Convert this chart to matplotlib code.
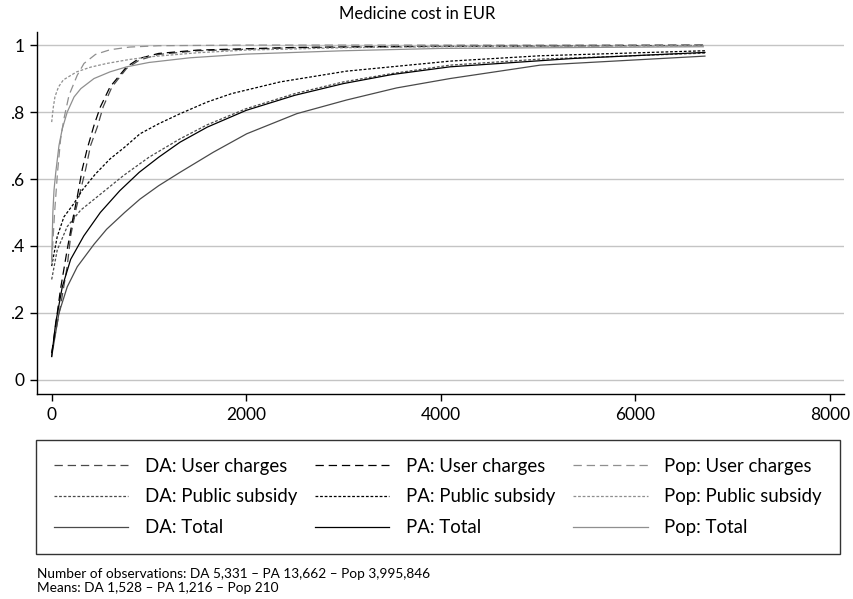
import matplotlib
matplotlib.use("Agg")
import matplotlib.pyplot as plt

plt.rcParams['font.family'] = ['Lato', 'DejaVu Sans']
plt.rcParams['lines.scale_dashes'] = False

# cumulative share of persons by medicine cost (EUR)
da_uc_x = [0, 25, 90, 160, 195, 250, 300, 350, 400, 470, 530, 620, 770, 900, 1100, 1500, 2500, 4000, 6700]
da_uc_y = [0.08, 0.12, 0.22, 0.34, 0.43, 0.51, 0.57, 0.63, 0.70, 0.756, 0.816, 0.875, 0.93, 0.955, 0.972, 0.983, 0.992, 0.996, 0.999]
pa_uc_x = [0, 25, 90, 160, 210, 265, 315, 365, 435, 500, 600, 770, 900, 1100, 1500, 2500, 4000, 6700]
pa_uc_y = [0.08, 0.13, 0.27, 0.39, 0.47, 0.55, 0.63, 0.69, 0.76, 0.815, 0.875, 0.935, 0.96, 0.975, 0.985, 0.993, 0.997, 1.0]
pop_uc_x = [0, 30, 60, 92, 126, 178, 263, 332, 450, 600, 800, 1100, 2000, 4000, 6700]
pop_uc_y = [0.35, 0.50, 0.62, 0.72, 0.78, 0.85, 0.91, 0.945, 0.972, 0.986, 0.994, 0.998, 1.0, 1.0, 1.0]

da_ps_x = [0, 57, 160, 298, 503, 737, 1000, 1320, 1600, 2000, 2500, 3000, 3500, 4096, 5020, 6717]
da_ps_y = [0.30, 0.388, 0.458, 0.507, 0.555, 0.61, 0.665, 0.72, 0.762, 0.81, 0.855, 0.89, 0.915, 0.94, 0.958, 0.976]
pa_ps_x = [0, 57, 126, 229, 315, 450, 600, 750, 908, 1100, 1320, 1600, 1850, 2350, 3030, 4096, 5021, 6717]
pa_ps_y = [0.34, 0.428, 0.487, 0.527, 0.567, 0.615, 0.66, 0.695, 0.735, 0.765, 0.795, 0.83, 0.855, 0.89, 0.922, 0.952, 0.968, 0.983]
pop_ps_x = [0, 17, 34, 70, 120, 257, 400, 565, 800, 1011, 1500, 2000, 3000, 4000, 6700]
pop_ps_y = [0.77, 0.815, 0.846, 0.875, 0.896, 0.92, 0.934, 0.945, 0.957, 0.965, 0.977, 0.985, 0.992, 0.995, 0.998]

da_tot_x = [0, 75, 160, 263, 435, 565, 750, 908, 1100, 1320, 1662, 2005, 2519, 3033, 3547, 4096, 5021, 6717]
da_tot_y = [0.07, 0.20, 0.278, 0.338, 0.405, 0.45, 0.50, 0.54, 0.58, 0.62, 0.68, 0.735, 0.795, 0.836, 0.872, 0.90, 0.94, 0.967]
pa_tot_x = [0, 41, 109, 195, 330, 500, 700, 900, 1100, 1320, 1600, 2000, 2500, 3000, 3500, 4096, 5365, 6717]
pa_tot_y = [0.07, 0.17, 0.278, 0.36, 0.43, 0.50, 0.565, 0.62, 0.665, 0.71, 0.755, 0.805, 0.85, 0.885, 0.912, 0.935, 0.96, 0.978]
pop_tot_x = [0, 12, 24, 42, 75, 109, 160, 230, 300, 435, 600, 771, 1000, 1422, 2000, 3000, 4000, 6700]
pop_tot_y = [0.36, 0.50, 0.567, 0.62, 0.70, 0.75, 0.80, 0.845, 0.87, 0.90, 0.92, 0.935, 0.948, 0.962, 0.973, 0.983, 0.99, 0.995]

groups = ['DA', 'PA', 'Pop']
colors = {'DA': '#4a4a4a', 'PA': 'black', 'Pop': '#8f8f8f'}
measures = ['User charges', 'Public subsidy', 'Total']
dashes = {'User charges': (6, 3.5), 'Public subsidy': (2.0, 1.3), 'Total': None}
series = {
    ('DA', 'User charges'): (da_uc_x, da_uc_y),
    ('PA', 'User charges'): (pa_uc_x, pa_uc_y),
    ('Pop', 'User charges'): (pop_uc_x, pop_uc_y),
    ('DA', 'Public subsidy'): (da_ps_x, da_ps_y),
    ('PA', 'Public subsidy'): (pa_ps_x, pa_ps_y),
    ('Pop', 'Public subsidy'): (pop_ps_x, pop_ps_y),
    ('DA', 'Total'): (da_tot_x, da_tot_y),
    ('PA', 'Total'): (pa_tot_x, pa_tot_y),
    ('Pop', 'Total'): (pop_tot_x, pop_tot_y),
}

W, H = 854, 599
fig = plt.figure(figsize=(W / 100, H / 100), dpi=100)
ax = fig.add_axes([37 / W, (H - 394) / H, (844 - 37) / W, (394 - 32) / H])

handles = []
for g in groups:
    for m in measures:
        x, y = series[(g, m)]
        line, = ax.plot(x, y, color=colors[g], lw=0.9, label=g + ': ' + m)
        if dashes[m] is not None:
            line.set_dashes(dashes[m])
        handles.append(line)

ax.set_xlim(-151, 8147)
ax.set_ylim(-0.042, 1.039)
ax.set_xticks([0, 2000, 4000, 6000, 8000])
ax.set_yticks([0, 0.2, 0.4, 0.6, 0.8, 1.0])
ax.set_yticklabels(['0', '.2', '.4', '.6', '.8', '1'])
ax.yaxis.grid(True, color='#c4c4c4', lw=1.0)
ax.set_axisbelow(True)
for s in ['top', 'right']:
    ax.spines[s].set_visible(False)
for s in ['left', 'bottom']:
    ax.spines[s].set_linewidth(1.0)
ax.tick_params(labelsize=12.5, length=5, width=1.0, direction='out', pad=4)

fig.text(417 / W, 1 - 14 / H, 'Medicine cost in EUR', ha='center', va='center', fontsize=12)

leg = fig.legend(handles=handles, ncol=3, loc='upper left',
                 bbox_to_anchor=(36 / W, 1 - 440 / H),
                 fontsize=13.4, handlelength=4.0, handletextpad=0.9, columnspacing=0.95,
                 labelspacing=0.74, borderpad=0.95, borderaxespad=0, fancybox=False, frameon=True)
leg.get_frame().set_edgecolor('black')
leg.get_frame().set_linewidth(1.0)

fig.text(37 / W, 1 - 574 / H, 'Number of observations: DA 5,331 \u2013 PA 13,662 \u2013 Pop 3,995,846',
         ha='left', va='center', fontsize=9.8)
fig.text(37 / W, 1 - 588 / H, 'Means: DA 1,528 \u2013 PA 1,216 \u2013 Pop 210',
         ha='left', va='center', fontsize=9.8)

fig.savefig('out.png', dpi=100)
